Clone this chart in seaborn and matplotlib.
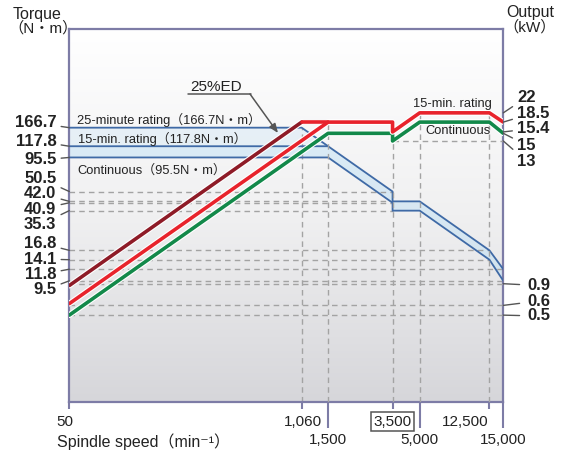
import numpy as np
import pandas as pd
import matplotlib
matplotlib.use("Agg")
import matplotlib.pyplot as plt
import seaborn as sns
import matplotlib.patheffects as pe
from matplotlib.colors import LinearSegmentedColormap
from matplotlib.ticker import NullLocator

# ---------------- data ----------------
# power curves (kW) vs spindle speed (min^-1)
ed_speed = [50, 1060, 1500]
ed_power = [0.87, 18.5, 18.5]
m15_speed = [50, 1500, 3500, 3500, 5000, 12500, 15000]
m15_power = [0.62, 18.5, 18.5, 15.4, 22, 22, 18.5]
cont_speed = [50, 1500, 3500, 3500, 5000, 12500, 15000]
cont_power = [0.5, 15, 15, 13, 18.5, 18.5, 15]

# torque curves (N·m)
t25_speed = [50, 1060, 1500]
t25_torque = [166.7, 166.7, 117.8]
t15_speed = [50, 1500, 3500, 3500, 5000, 12500, 15000]
t15_torque = [117.8, 117.8, 50.5, 42.0, 42.0, 16.8, 11.8]
tc_speed = [50, 1500, 3500, 3500, 5000, 12500, 15000]
tc_torque = [95.5, 95.5, 40.9, 35.3, 35.3, 14.1, 9.5]

torque_ticks = [166.7, 117.8, 95.5, 50.5, 42.0, 40.9, 35.3, 16.8, 14.1, 11.8, 9.5]
torque_tick_labels = ["166.7", "117.8", "95.5", "50.5", "42.0", "40.9", "35.3",
                      "16.8", "14.1", "11.8", "9.5"]
output_ticks_high = [22, 18.5, 15.4, 15, 13]
output_tick_labels_high = ["22", "18.5", "15.4", "15", "13"]
output_ticks_low = [0.9, 0.6, 0.5]
output_tick_labels_low = ["0.9", "0.6", "0.5"]

speed_ticks_long = [1500, 5000, 15000]
speed_ticks_short = [50, 1060, 3500, 12500]
speed_tick_labels = {50: "50", 1060: "1,060", 1500: "1,500", 3500: "3,500",
                     5000: "5,000", 12500: "12,500", 15000: "15,000"}

# reference (dashed) lines
dash_torque_to_3500 = [50.5, 42.0, 40.9, 35.3]
dash_torque_to_12500 = [16.8, 14.1]
dash_torque_to_15000 = [11.8, 9.5]
dash_power_full = [0.9, 0.6, 0.5]
dash_power_from_3500 = [13]

# ---------------- style ----------------
sns.set_theme(style="white")
plt.rcParams['font.family'] = ['Liberation Sans', 'Noto Sans CJK JP', 'DejaVu Sans']

FRAME = '#7d7ca6'
DASH = '#a3a3a3'
BLUE = '#3f6aa6'
BLUEFILL = '#b9def5'
DARKRED = '#8e1b27'
RED = '#e8232c'
GREEN = '#12894a'
TXT = '#222222'
LEAD = '#555555'

W, H = 567, 453
fig = plt.figure(figsize=(W / 100, H / 100), dpi=100)
rect = [69.3 / W, (H - 401.7) / H, 434 / W, 372.4 / H]

# gradient background
bg = fig.add_axes(rect, zorder=0)
grad = np.linspace(0, 1, 256).reshape(-1, 1)
cmap = LinearSegmentedColormap.from_list('bg', ['#ffffff', '#f0f0f1', '#d6d6da'])
bg.imshow(grad, extent=[0, 1, 0, 1], cmap=cmap, aspect='auto', origin='upper')
bg.set_axis_off()

ax = fig.add_axes(rect, zorder=1)
ax.set_facecolor('none')
ax.set_xscale('log')
ax.set_yscale('log')
ax.set_xlim(50, 15000)
ax.set_ylim(0.99, 1050)

ax2 = ax.twinx()
ax2.set_yscale('log')
ax2.set_ylim(0.099, 105)
ax2.set_xlim(50, 15000)

for a in (ax, ax2):
    a.xaxis.set_major_locator(NullLocator())
    a.xaxis.set_minor_locator(NullLocator())
    a.yaxis.set_major_locator(NullLocator())
    a.yaxis.set_minor_locator(NullLocator())
    a.grid(False)
for s in ax.spines.values():
    s.set_color(FRAME)
    s.set_linewidth(1.6)
for s in ax2.spines.values():
    s.set_visible(False)

dash_kw = dict(color=DASH, lw=1.0, linestyles=(0, (4, 3)), zorder=2)

# blue band between torque curves
ax.fill_between(t15_speed, t15_torque, tc_torque, color=BLUEFILL, lw=0, zorder=1, alpha=0.45)
ax.fill_between(t25_speed, t25_torque, [t15_torque[0], t15_torque[1], t15_torque[1]],
                color=BLUEFILL, lw=0, zorder=1, alpha=0.25)

# dashed reference lines (torque)
ax.hlines(dash_torque_to_3500, 50, 3500, **dash_kw)
ax.hlines(dash_torque_to_12500, 50, 12500, **dash_kw)
ax.hlines(dash_torque_to_15000, 50, 15000, **dash_kw)
ax.vlines([t25_speed[1]], 0.99, t25_torque[1], **dash_kw)
# dashed reference lines (power)
ax2.hlines(dash_power_full, 50, 15000, **dash_kw)
ax2.hlines(dash_power_from_3500, 3500, 15000, **dash_kw)
ax2.vlines([1500, 3500], 0.099, 18.5, **dash_kw)
ax2.vlines([5000, 12500], 0.099, 22, **dash_kw)

# torque curves
for xs, ys in ((t25_speed, t25_torque), (t15_speed, t15_torque), (tc_speed, tc_torque)):
    sns.lineplot(x=xs, y=ys, ax=ax, color=BLUE, lw=1.3, estimator=None, sort=False,
                 zorder=3, legend=False)

# power curves
stroke = [pe.Stroke(linewidth=4.2, foreground='white'), pe.Normal()]
sns.lineplot(x=cont_speed, y=cont_power, ax=ax2, color=GREEN, lw=2.6, estimator=None,
             sort=False, path_effects=stroke, legend=False)
sns.lineplot(x=m15_speed, y=m15_power, ax=ax2, color=RED, lw=2.6, estimator=None,
             sort=False, path_effects=stroke, legend=False)
sns.lineplot(x=ed_speed[:2], y=ed_power[:2], ax=ax2, color=DARKRED, lw=2.6,
             estimator=None, sort=False, path_effects=stroke, legend=False)
sns.lineplot(x=ed_speed[1:], y=ed_power[1:], ax=ax2, color=RED, lw=2.6,
             estimator=None, sort=False, legend=False)
ax2.set_xlim(50, 15000)
ax2.set_ylim(0.099, 105)
ax.set_xlim(50, 15000)
ax.set_ylim(0.99, 1050)

# ---------------- x ticks ----------------
xtr = ax.get_xaxis_transform()
for s in speed_ticks_long:
    ax.plot([s, s], [0, -26.5 / 372.4], transform=xtr, color=FRAME, lw=1.5,
            clip_on=False, solid_capstyle='butt')
for s in speed_ticks_short:
    ax.plot([s, s], [0, -7.5 / 372.4], transform=xtr, color=FRAME, lw=1.5,
            clip_on=False, solid_capstyle='butt')

tick_fs = 11
lbl_kw = dict(xycoords=xtr, textcoords='offset pixels', va='center',
              fontsize=tick_fs, color=TXT, annotation_clip=False)
ax.annotate(speed_tick_labels[50], xy=(50, 0), xytext=(-4, -20), ha='center', **lbl_kw)
ax.annotate(speed_tick_labels[1060], xy=(1060, 0), xytext=(20, -20), ha='right', **lbl_kw)
ax.annotate(speed_tick_labels[12500], xy=(12500, 0), xytext=(-1, -20), ha='right', **lbl_kw)
ax.annotate(speed_tick_labels[3500], xy=(3500, 0), xytext=(0, -20), ha='center',
            bbox=dict(boxstyle='square,pad=0.18', fc='white', ec='#555555', lw=1.1), **lbl_kw)
for s in speed_ticks_long:
    ax.annotate(speed_tick_labels[s], xy=(s, 0), xytext=(0, -38.5), ha='center', **lbl_kw)

fig.text(57 / W, 1 - 441.5 / H, "Spindle speed（min⁻¹）", fontsize=11.5, color=TXT,
         ha='left', va='center')

# ---------------- left (torque) labels ----------------
left_label_y = [122.7, 141, 160, 178.5, 193.5, 209, 224.5, 243, 259, 274.5, 290]
ytr = ax.get_yaxis_transform()
for v, lab, ly in zip(torque_ticks, torque_tick_labels, left_label_y):
    ax.annotate(lab, xy=(0, v), xycoords=ytr, xytext=(56.5, H - ly),
                textcoords='figure pixels', ha='right', va='center', fontsize=12,
                fontweight='bold', color=TXT, annotation_clip=False,
                arrowprops=dict(arrowstyle='-', color=LEAD, lw=1.0, shrinkA=1, shrinkB=0))

# ---------------- right (output) labels ----------------
ytr2 = ax2.get_yaxis_transform()
right_label_y = [97.5, 113, 128.5, 145, 161]
for v, lab, ly in zip(output_ticks_high, output_tick_labels_high, right_label_y):
    ax2.annotate(lab, xy=(1, v), xycoords=ytr2, xytext=(517, H - ly),
                 textcoords='figure pixels', ha='left', va='center', fontsize=12,
                 fontweight='bold', color=TXT, annotation_clip=False,
                 arrowprops=dict(arrowstyle='-', color=LEAD, lw=1.0, shrinkA=1, shrinkB=0))
right_low_y = [285.5, 301, 316]
for v, lab, ly in zip(output_ticks_low, output_tick_labels_low, right_low_y):
    ax2.annotate(lab, xy=(1, v), xycoords=ytr2, xytext=(527, H - ly),
                 textcoords='figure pixels', ha='left', va='center', fontsize=12,
                 fontweight='bold', color=TXT, annotation_clip=False,
                 arrowprops=dict(arrowstyle='-', color=LEAD, lw=1.0, shrinkA=3, shrinkB=0))

# ---------------- axis titles ----------------
fig.text(13 / W, 1 - 14 / H, "Torque", fontsize=11.5, color=TXT, ha='left', va='center')
fig.text(8 / W, 1 - 28.5 / H, "（N・m）", fontsize=11, color=TXT, ha='left', va='center')
fig.text(530 / W, 1 - 12.5 / H, "Output", fontsize=11.5, color=TXT, ha='center', va='center')
fig.text(530 / W, 1 - 27 / H, "（kW）", fontsize=11, color=TXT, ha='center', va='center')

# ---------------- inner annotations ----------------
in_fs = 9.3
fig.text(77 / W, 1 - 120 / H, "25-minute rating（166.7N・m）", fontsize=in_fs, color=TXT,
         ha='left', va='center')
fig.text(78 / W, 1 - 139 / H, "15-min. rating（117.8N・m）", fontsize=in_fs, color=TXT,
         ha='left', va='center')
fig.text(77 / W, 1 - 170.5 / H, "Continuous（95.5N・m）", fontsize=in_fs, color=TXT,
         ha='left', va='center')
fig.text(413 / W, 1 - 104 / H, "15-min. rating", fontsize=in_fs, color=TXT,
         ha='left', va='center')
fig.text(425 / W, 1 - 130.5 / H, "Continuous", fontsize=in_fs, color=TXT,
         ha='left', va='center')

fig.text(190 / W, 1 - 87 / H, "25%ED", fontsize=11, color=TXT, ha='left', va='center')
fig.add_artist(plt.Line2D([188 / W, 251 / W], [1 - 94 / H, 1 - 94 / H],
                          transform=fig.transFigure, color=LEAD, lw=1.1))
ax.annotate("", xy=(278, H - 133), xycoords='figure pixels',
            xytext=(250, H - 94), textcoords='figure pixels',
            arrowprops=dict(arrowstyle='-|>,head_length=0.45,head_width=0.18',
                            color=LEAD, lw=1.1, shrinkA=0, shrinkB=0))

fig.savefig("out.png", dpi=100)
